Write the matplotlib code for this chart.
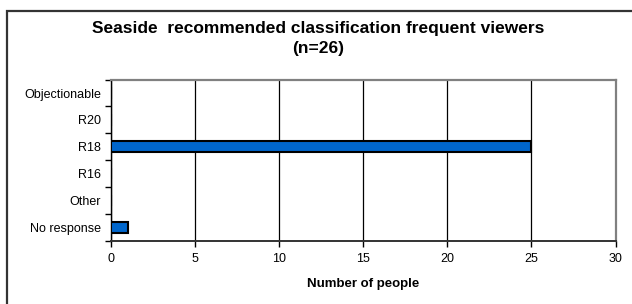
import matplotlib
matplotlib.use('Agg')
import matplotlib.pyplot as plt
from matplotlib.patches import Rectangle

# Data
categories = ['No response', 'Other', 'R16', 'R18', 'R20', 'Objectionable']
counts = [1, 0, 0, 25, 0, 0]
xticks = [0, 5, 10, 15, 20, 25, 30]

plt.rcParams['font.family'] = ['Liberation Sans', 'DejaVu Sans']

fig = plt.figure(figsize=(6.32, 3.04), dpi=100)
ax = fig.add_axes([0.1756, 0.2082, 0.7984, 0.530])

# outer frame (right and bottom edges fall outside the picture)
fig.patches.append(Rectangle((7 / 632, -0.05), 1.1, 1 - 11 / 304 + 0.05,
                             transform=fig.transFigure, fill=False,
                             edgecolor='#333333', linewidth=1.6))

pos = range(len(categories))
ax.barh(pos, counts, height=0.42, color='#0066CC', edgecolor='black',
        linewidth=1.5, zorder=3)

ax.set_xlim(0, 30)
ax.set_ylim(-0.5, len(categories) - 0.5)
ax.set_xticks(xticks)
ax.set_xticklabels([str(t) for t in xticks], fontsize=9)
ax.set_yticks(list(pos))
ax.set_yticklabels(categories, fontsize=9)
ax.set_yticks([p - 0.5 for p in range(len(categories) + 1)], minor=True)
ax.tick_params(axis='y', which='major', length=0, pad=7)
ax.tick_params(axis='y', which='minor', length=4, width=1, direction='out')
ax.tick_params(axis='x', length=4, width=1, direction='out', pad=5)

ax.xaxis.grid(True, color='black', linewidth=0.9, zorder=0)
ax.set_axisbelow(True)

for s in ['top', 'right']:
    ax.spines[s].set_color('#808080')
    ax.spines[s].set_linewidth(1.6)
ax.spines['bottom'].set_color('#333333')
ax.spines['bottom'].set_linewidth(1.4)
ax.spines['left'].set_color('black')
ax.spines['left'].set_linewidth(1.0)

ax.set_xlabel('Number of people', fontsize=9.5, fontweight='bold', labelpad=9)

fig.text(318 / 632, 1 - 29 / 304, 'Seaside  recommended classification frequent viewers',
         ha='center', va='center', fontsize=12.5, fontweight='bold')
fig.text(318 / 632, 1 - 49 / 304, '(n=26)', ha='center', va='center',
         fontsize=12.5, fontweight='bold')

fig.savefig('out.png', dpi=100)
